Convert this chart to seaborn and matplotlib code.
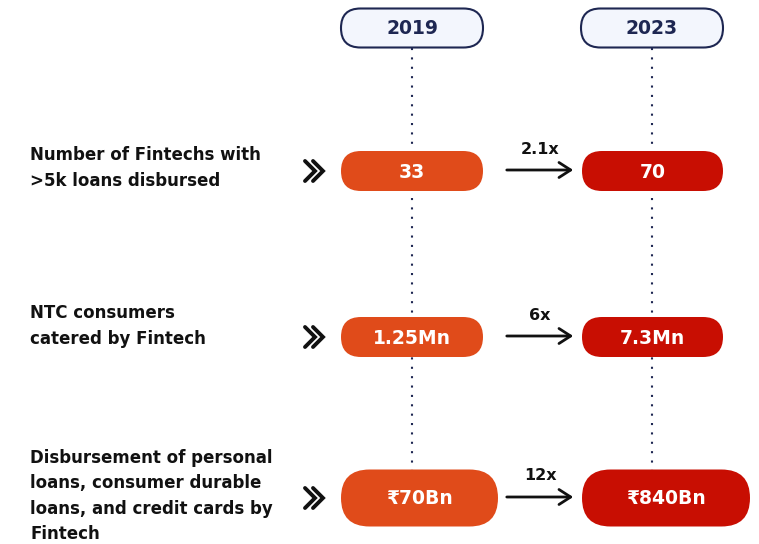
import matplotlib.pyplot as plt
import seaborn as sns
from matplotlib.patches import FancyBboxPatch

# ==========================================
# data
# ==========================================
years = ['2019', '2023']
metrics = [
    'Number of Fintechs with\n>5k loans disbursed',
    'NTC consumers\ncatered by Fintech',
    'Disbursement of personal\nloans, consumer durable\nloans, and credit cards by\nFintech',
]
values_2019 = ['33', '1.25Mn', '₹70Bn']
values_2023 = ['70', '7.3Mn', '₹840Bn']
growth = ['2.1x', '6x', '12x']

# ==========================================
# style
# ==========================================
sns.set_theme(style='white')
plt.rcParams['font.family'] = ['DejaVu Sans']

navy = '#1E2752'
orange = '#E04B1A'
red = '#C80E02'

fig = plt.figure(figsize=(7.59, 5.44), dpi=100)
ax = fig.add_axes([0, 0, 1, 1])
ax.set_xlim(0, 759)
ax.set_ylim(544, 0)
ax.set_aspect('equal')
ax.axis('off')

col_x = [412, 652]          # column centres
row_y = [171, 337, 498]     # row centres
label_y = [168, 326, 496]
row_h = [40, 40, 57]
pill_w = [[142, 141], [142, 141], [157, 168]]


def pill(cx, cy, w, h, fc, ec='none', lw=0, z=3):
    p = FancyBboxPatch((cx - w / 2, cy - h / 2), w, h,
                       boxstyle=f'round,pad=0,rounding_size={h / 2}',
                       fc=fc, ec=ec, lw=lw, zorder=z)
    ax.add_patch(p)


# dotted guides
for x in col_x:
    ax.plot([x, x], [48, 470], color=navy, ls=(0, (1, 3.5)), lw=1.5, zorder=1)

# year headers
for x, yr in zip(col_x, years):
    pill(x, 28, 142, 39, '#F3F6FD', ec=navy, lw=1.5)
    ax.text(x, 29, yr, ha='center', va='center', fontsize=13.5,
            fontweight='bold', color=navy, zorder=4)

for i in range(len(metrics)):
    y = row_y[i]
    h = row_h[i]
    # row label
    ax.text(30, label_y[i], metrics[i], ha='left', va='center', fontsize=12,
            fontweight='bold', color='#111111', linespacing=1.53)
    # chevrons
    for dx in [0, 8]:
        ax.plot([305 + dx, 315 + dx, 305 + dx], [y - 10, y, y + 10],
                color='#111111', lw=2.8, solid_joinstyle='miter', zorder=3)
    # pills
    w1, w2 = pill_w[i]
    x1 = 341 + w1 / 2
    x2 = 582 + w2 / 2
    pill(x1, y, w1, h, orange)
    pill(x2, y, w2, h, red)
    ax.text(x1, y + 1, values_2019[i], ha='center', va='center', fontsize=13.5,
            fontweight='bold', color='white', zorder=4)
    ax.text(x2, y + 1, values_2023[i], ha='center', va='center', fontsize=13.5,
            fontweight='bold', color='white', zorder=4)
    # growth arrow
    ay = y - 1
    ax.annotate('', xy=(576, ay), xytext=(504, ay),
                arrowprops=dict(arrowstyle='->,head_length=0.7,head_width=0.45',
                                lw=2, color='#111111'))
    ax.text(540, ay - 21, growth[i], ha='center', va='center', fontsize=11.5,
            fontweight='bold', color='#111111')

fig.savefig('out.png', dpi=100)
